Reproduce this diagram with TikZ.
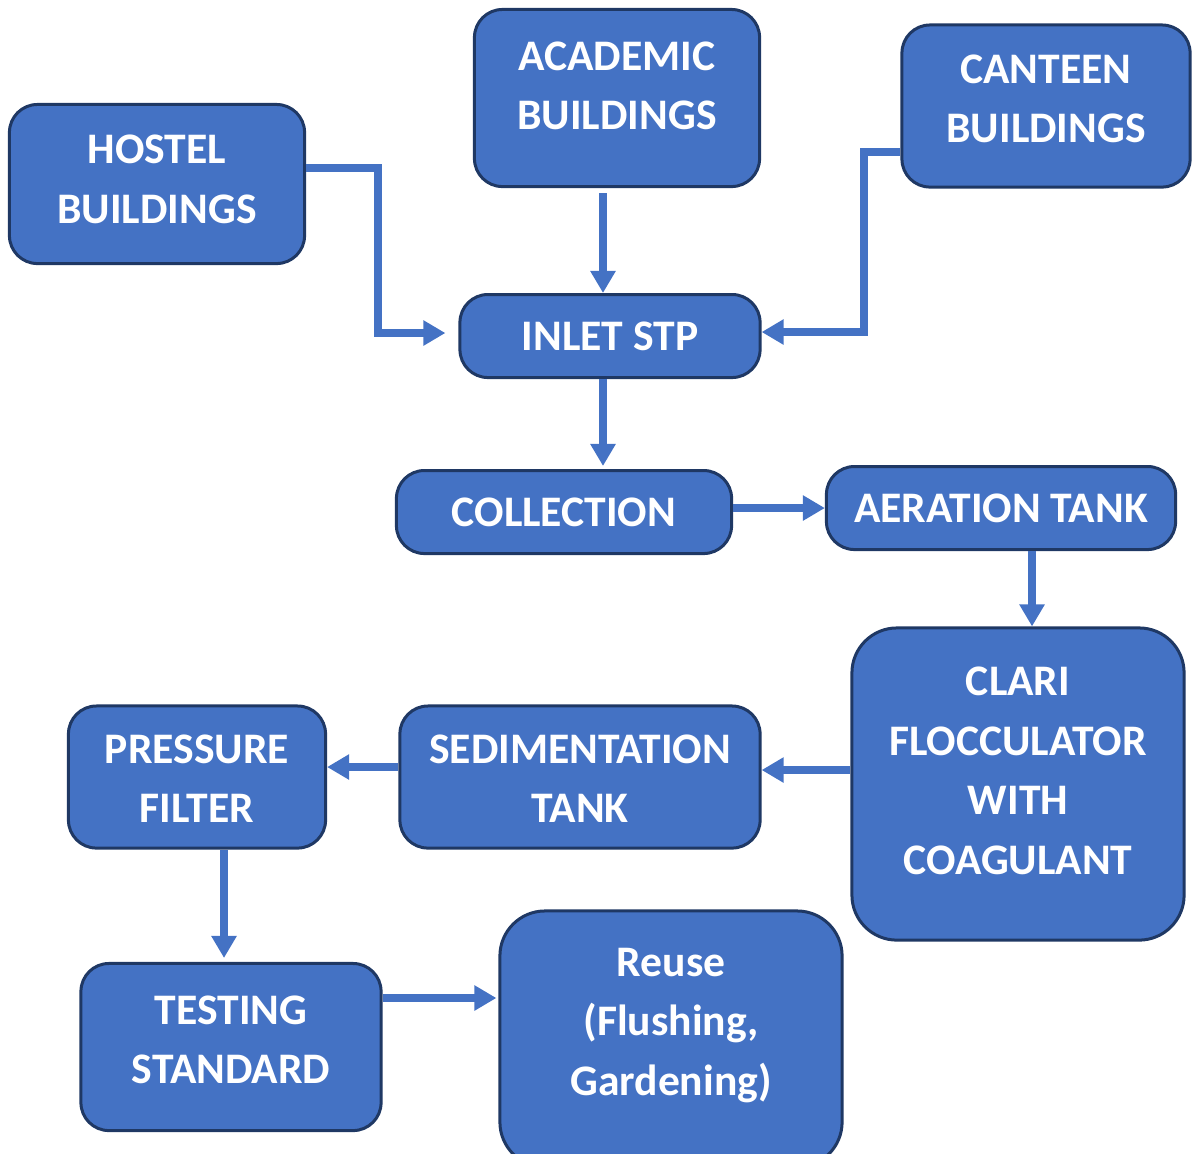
\documentclass[tikz,border=0pt]{standalone}
\usepackage{fontspec}
\setmainfont{Carlito}
\usetikzlibrary{arrows.meta}
\definecolor{boxblue}{HTML}{4472C4}
\definecolor{boxedge}{HTML}{1F3864}
% text block with extra room on top (#1) and below (#2)
\newcommand{\boxtext}[3]{\raisebox{0pt}[\dimexpr\height+#1\relax][\dimexpr\depth+#2\relax]{\begin{tabular}{@{}c@{}}#3\end{tabular}}}
\begin{document}
\begin{tikzpicture}[x=0.01cm, y=-0.01cm,
            block/.style={rectangle, draw=boxedge, line width=0.03cm, fill=boxblue, text=white,
                          rounded corners=0.28cm, align=center, inner sep=0pt,
                          font=\bfseries\fontsize{12.4}{17}\selectfont},
            bigblock/.style={block, rounded corners=0.45cm},
            flow/.style={draw=boxblue, line width=0.08cm, -{Triangle[width=0.24cm, length=0.22cm]}}
        ]
            \useasboundingbox (0,0) rectangle (1192,1153);

            % Nodes
            \node[block, minimum width=2.95cm, minimum height=1.59cm] (hostel) at (157,184) {\boxtext{0pt}{0.05cm}{HOSTEL\\BUILDINGS}};
            \node[block, minimum width=2.85cm, minimum height=1.77cm] (academic) at (617,98) {\boxtext{0pt}{0.2cm}{ACADEMIC\\BUILDINGS}};
            \node[block, minimum width=2.88cm, minimum height=1.62cm] (canteen) at (1046,106) {\boxtext{0pt}{0.1cm}{CANTEEN\\BUILDINGS}};
            \node[block, minimum width=3.00cm, minimum height=0.83cm] (inlet) at (610,336) {INLET STP};
            \node[block, minimum width=3.35cm, minimum height=0.83cm] (collection) at (564,512) {COLLECTION};
            \node[block, minimum width=3.49cm, minimum height=0.83cm] (aeration) at (1001,508) {AERATION TANK};
            \node[bigblock, minimum width=3.32cm, minimum height=3.12cm] (clari) at (1018,784) {\boxtext{0pt}{0.22cm}{CLARI\\FLOCCULATOR\\WITH\\COAGULANT}};
            \node[block, minimum width=3.60cm, minimum height=1.42cm] (sedimentation) at (580,777) {\boxtext{0.08cm}{0pt}{SEDIMENTATION\\TANK}};
            \node[block, minimum width=2.57cm, minimum height=1.42cm] (pressure) at (197,777) {\boxtext{0.08cm}{0pt}{PRESSURE\\FILTER}};
            \node[block, minimum width=3.00cm, minimum height=1.67cm] (testing) at (231,1047) {\boxtext{0pt}{0.1cm}{TESTING\\STANDARD}};
            \node[bigblock, minimum width=3.42cm, minimum height=2.56cm] (reuse) at (671,1039) {\boxtext{0pt}{0.30cm}{Reuse\\(Flushing,\\Gardening)}};

            % Paths: sources to inlet
            \draw[flow] ([yshift=0.16cm]hostel.east) -- ++(72,0) |- ([xshift=-0.13cm, yshift=0.03cm]inlet.west);
            \draw[flow] ([xshift=-0.14cm, yshift=-0.05cm]academic.south) -- ([xshift=-0.14cm]academic.south |- inlet.north);
            \draw[flow] ([yshift=-0.46cm]canteen.west) -- ++(-36,0) |- ([yshift=0.04cm]inlet.east);

            % Paths: treatment chain
            \draw[flow] ([xshift=-0.07cm]inlet.south) -- ([xshift=-0.07cm, yshift=0.03cm]inlet.south |- collection.north);
            \draw[flow] (collection.east |- aeration.west) -- (aeration.west);
            \draw[flow] ([xshift=0.31cm]aeration.south) -- ([xshift=0.31cm]aeration.south |- clari.north);
            \draw[flow] ([yshift=0.07cm]clari.west |- sedimentation.east) -- ([yshift=0.07cm]sedimentation.east);
            \draw[flow] ([yshift=0.10cm]sedimentation.west) -- ([yshift=0.10cm]pressure.east);
            \draw[flow] ([xshift=0.27cm]pressure.south) -- ([xshift=0.27cm, yshift=0.04cm]pressure.south |- testing.north);
            \draw[flow] ([yshift=0.49cm]testing.east) -- ([yshift=0.49cm, xshift=-0.02cm]testing.east -| reuse.west);
        \end{tikzpicture}
\end{document}
